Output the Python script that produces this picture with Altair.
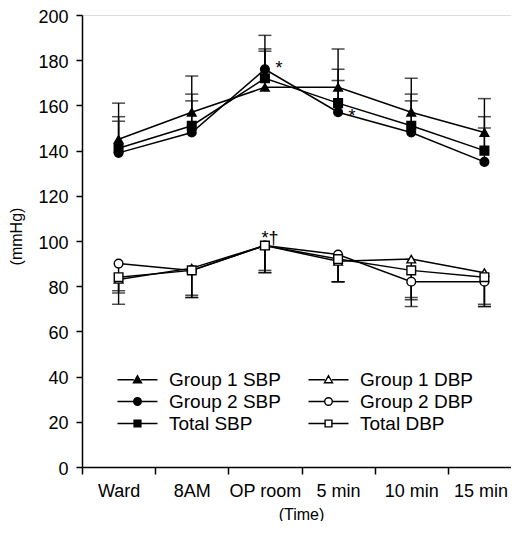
import altair as alt
import pandas as pd

categories = ["Ward", "8AM", "OP room", "5 min", "10 min", "15 min"]
series_names = ["Group 1 SBP", "Group 2 SBP", "Total SBP", "Group 1 DBP", "Group 2 DBP", "Total DBP"]

g1_sbp = [145, 157, 168, 168, 157, 148]
g2_sbp = [139, 148, 176, 157, 148, 135]
tot_sbp = [141, 151, 172, 161, 151, 140]
g1_sbp_hi = [161, 173, 184, 185, 172, 163]
g2_sbp_hi = [153, 162, 191, 171, 162, 150]
tot_sbp_hi = [155, 165, 185, 176, 165, 155]

g1_dbp = [83, 88, 98, 91, 92, 86]
g2_dbp = [90, 87, 98, 94, 82, 82]
tot_dbp = [84, 87, 98, 92, 87, 84]
g1_dbp_lo = [72, 75, 86, 82, 75, 71]
g2_dbp_lo = [78, 75, 86, 82, 71, 71]
tot_dbp_lo = [77, 76, 87, 82, 74, 72]

shapes_plot = ["triangle-up", "circle", "square", "triangle-up", "circle", "square"]
fills = ["black", "black", "black", "white", "white", "white"]
strokes = ["black"] * 6

# legend glyphs: line + marker
tri = "M0,-1L1,0.75L-1,0.75Z"
cir = "M-0.95,0A0.95,0.95 0 1,0 0.95,0A0.95,0.95 0 1,0 -0.95,0Z"
sqr = "M-0.85,-0.85H0.85V0.85H-0.85Z"
line = "M-5,0H-0.9M0.9,0H5"
shapes_legend = [line + tri, line + cir, line + sqr, line + tri, line + cir, line + sqr]

star_cat = ["OP room", "5 min"]
star_y = [176, 155]
dagger_cat = ["OP room"]
dagger_y = [101]

rows = []
for name, vals, bnd in [
    ("Group 1 SBP", g1_sbp, g1_sbp_hi), ("Group 2 SBP", g2_sbp, g2_sbp_hi),
    ("Total SBP", tot_sbp, tot_sbp_hi), ("Group 1 DBP", g1_dbp, g1_dbp_lo),
    ("Group 2 DBP", g2_dbp, g2_dbp_lo), ("Total DBP", tot_dbp, tot_dbp_lo)]:
    for c, v, b in zip(categories, vals, bnd):
        rows.append({"cat": c, "series": name, "value": v, "bound": b})
df = pd.DataFrame(rows)
stars = pd.DataFrame({"cat": star_cat, "y": star_y})
daggers = pd.DataFrame({"cat": dagger_cat, "y": dagger_y})

FONT = "Liberation Sans"
PLOT_W = 429

x = alt.X("cat:N", sort=categories,
          scale=alt.Scale(type="band", paddingInner=0, paddingOuter=0, range=[0, 439]),
          axis=alt.Axis(title="(Time)", labelAngle=0, tickBand="extent", tickSize=7,
                        labelPadding=8, labelFontSize=18, titleFontSize=16,
                        titleFontWeight="normal", titlePadding=6, labelColor="black",
                        titleColor="black", domainColor="black", tickColor="black",
                        domainWidth=1.5, tickWidth=1.5, titleX=219,
                        labelOffset={"condition": {"test": "datum.label == '15 min'", "value": -4},
                                     "value": 0}))
y_scale = alt.Scale(domain=[0, 200], nice=False)
y = alt.Y("value:Q", scale=y_scale,
          axis=alt.Axis(title="(mmHg)", values=list(range(0, 201, 20)), grid=False,
                        tickSize=6, labelPadding=8, labelFontSize=18, labelOffset=2,
                        titleFontSize=16, titleFontWeight="normal", titleX=-58, titleY=221,
                        labelColor="black", titleColor="black", domainColor="black",
                        tickColor="black", domainWidth=1.5, tickWidth=1.5))

base = alt.Chart(df)
err = base.mark_rule(color="black", strokeWidth=1.4).encode(x=x, y=y, y2="bound:Q")
caps = base.mark_tick(color="black", size=13, thickness=1.5, orient="horizontal").encode(
    x=x, y=alt.Y("bound:Q", scale=y_scale))
lines = base.mark_line(color="black", strokeWidth=1.5).encode(
    x=x, y=y, detail="series:N")
pts = base.mark_point(stroke="black", strokeWidth=1.4, size=75, opacity=1).encode(
    x=x, y=y,
    shape=alt.Shape("series:N", scale=alt.Scale(domain=series_names, range=shapes_plot), legend=None),
    fill=alt.Fill("series:N", scale=alt.Scale(domain=series_names, range=fills), legend=None))
txt1 = alt.Chart(stars).mark_text(font=FONT, fontSize=18, color="black", baseline="middle",
                                  dx=14, text="*").encode(
    x=x, y=alt.Y("y:Q", scale=y_scale))
txt2 = alt.Chart(daggers).mark_text(font=FONT, fontSize=18, color="black", baseline="middle",
                                    dx=5, text="*†").encode(
    x=x, y=alt.Y("y:Q", scale=y_scale))

legend_opts = dict(title=None, orient="none", legendX=46, legendY=355,
                   columns=2, symbolSize=64, labelOffset=22,
                   labelFontSize=19, labelFont=FONT, columnPadding=24,
                   rowPadding=2, symbolStrokeColor="black",
                   symbolStrokeWidth=1.4, labelColor="black", padding=0)
leg = base.transform_filter("false").mark_point(strokeWidth=1.4, opacity=1).encode(
    x=x, y=y,
    shape=alt.Shape("series:N", scale=alt.Scale(domain=series_names, range=shapes_legend),
                    legend=alt.Legend(**legend_opts)),
    fill=alt.Fill("series:N", scale=alt.Scale(domain=series_names, range=fills),
                  legend=alt.Legend(**legend_opts)),
    stroke=alt.Stroke("series:N", scale=alt.Scale(domain=series_names, range=strokes),
                      legend=alt.Legend(**legend_opts)))

chart = alt.layer(err, caps, lines, pts, txt1, txt2, leg).resolve_scale(
    shape="independent", fill="independent", stroke="independent").properties(
    width=PLOT_W, height=452,
    autosize=alt.AutoSizeParams(type="none"),
    padding={"left": 74, "top": 7, "right": 0, "bottom": 54}
).configure_view(stroke=None).configure(font=FONT)

chart.save("out.html", embed_options={"renderer": "svg", "actions": False})
